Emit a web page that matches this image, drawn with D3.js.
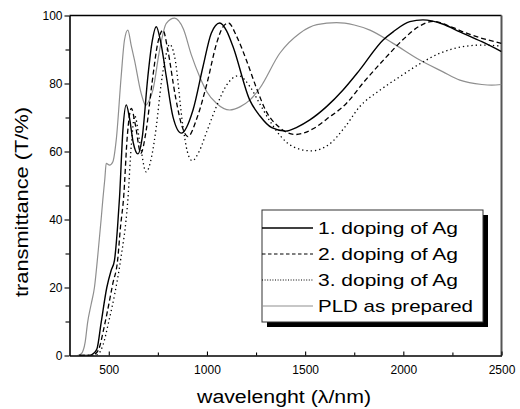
<!DOCTYPE html>
<html><head><meta charset="utf-8">
<script src="https://cdn.jsdelivr.net/npm/d3@7"></script>
<style>
html,body{margin:0;padding:0;background:#fff;}
svg{display:block;font-family:"Liberation Sans",Arial,sans-serif;}
</style></head>
<body><svg id="c" width="520" height="409"></svg>
<script>
// ---- data (wavelength nm, transmittance %) ----
const seriesNames = ["1. doping of Ag", "2. doping of Ag", "3. doping of Ag", "PLD as prepared"];
const doping1 = [[350,0],[400,0],[420,0.5],[440,2],[461,9.6],[490,20],[512,25],[529,28],[545,38],[555,46.7],[572,66.3],[589,73.7],[605,70],[625,62.5],[648,59.3],[670,64],[699,82],[720,92],[742,96.7],[765,92],[793,82],[827,70.2],[870,65.4],[929,72.2],[980,85],[1022,94.8],[1065,97.8],[1100,95.5],[1133,90.8],[1218,75.1],[1269,70.5],[1330,67],[1400,66],[1460,67.2],[1524,69.3],[1609,73.2],[1693,78.1],[1778,84],[1897,92.8],[1948,95.2],[2033,98.2],[2100,98.7],[2200,97.5],[2288,95.2],[2400,92.3],[2500,89.4]];
const doping2 = [[350,0],[410,0],[427,0.3],[450,2],[475,8],[500,15],[520,21],[545,28],[560,38],[575,46],[595,65],[615,72.7],[635,68],[663,59.5],[690,66],[720,80],[750,92],[776,95.7],[800,90],[840,76],[870,68],[903,64.4],[950,70],[1000,80],[1050,92],[1080,96.5],[1110,97.8],[1150,94],[1200,87],[1250,79],[1300,72],[1371,67],[1450,65],[1550,67],[1609,69.5],[1711,74.2],[1800,80.5],[1915,87.9],[2000,93],[2080,96.8],[2152,98.3],[2250,96.5],[2322,94.8],[2400,93.3],[2500,91.8]];
const doping3 = [[350,0],[425,0],[444,0.3],[470,3],[500,10],[530,18],[560,28],[597,45.7],[615,62],[632,70.5],[660,62],[690,54],[720,59],[742,67.3],[767,80],[790,88],[810,91.5],[835,88],[878,67.3],[900,60],[925,57.3],[960,60],[1000,66],[1050,73.5],[1100,79.5],[1160,82.3],[1220,79],[1269,74],[1320,69],[1371,64.8],[1439,61.4],[1530,60.2],[1620,62],[1700,67],[1778,73.2],[1880,78],[1982,82],[2090,86],[2186,88.9],[2300,90.8],[2400,91.3],[2500,91]];
const pld = [[340,0],[360,0.5],[380,4],[392,9.6],[410,15],[427,20],[445,30],[461,40],[470,46],[480,52],[487,56.5],[504,56],[521,57],[538,63.4],[563,82],[580,92.8],[597,95.7],[615,91],[631,86.9],[665,77.1],[688,73.6],[708,75.3],[725,78.1],[759,89.9],[793,97.7],[835,99.2],[880,96],[920,88.5],[963,82],[1000,77.5],[1048,74.2],[1116,72.2],[1170,73.2],[1218,75.1],[1269,78.6],[1371,88.9],[1473,94.8],[1560,97.3],[1660,97.9],[1750,97.2],[1830,95.7],[1948,91.8],[2084,86.9],[2200,83.5],[2288,81],[2400,79.7],[2450,79.5],[2500,79.7]];
const xTicks = [500, 1000, 1500, 2000, 2500];
const xMinorTicks = [750, 1250, 1750, 2250];
const yTicks = [0, 20, 40, 60, 80, 100];
const yMinorTicks = [10, 30, 50, 70, 90];
const xTitle = "wavelenght (\u03bb/nm)";
const yTitle = "transmittance (T/%)";

// ---- layout ----
const L = 69.5, R = 501.5, T = 15.5, B = 355.5;
const svg = d3.select("#c");
const x = d3.scaleLinear().domain([300, 2500]).range([L, R]);
const y = d3.scaleLinear().domain([0, 100]).range([B, T]);

svg.append("defs").append("clipPath").attr("id","clip")
  .append("rect").attr("x",L).attr("y",T-2).attr("width",R-L).attr("height",B-T+2);

// frame (top + right)
svg.append("line").attr("x1",L).attr("x2",R).attr("y1",T).attr("y2",T)
  .attr("stroke","#000").attr("stroke-width",1.5);
svg.append("line").attr("x1",R).attr("x2",R).attr("y1",T).attr("y2",B)
  .attr("stroke","#555").attr("stroke-width",2);

// curves
const line = d3.line().x(d=>x(d[0])).y(d=>y(d[1])).curve(d3.curveMonotoneX);
const styles = [
  {data: pld, stroke:"#8f8f8f", width:1.2, dash:null},
  {data: doping3, stroke:"#000", width:1.3, dash:"1.3,3"},
  {data: doping2, stroke:"#000", width:1.3, dash:"5,3"},
  {data: doping1, stroke:"#000", width:1.4, dash:null}
];
const g = svg.append("g").attr("clip-path","url(#clip)");
styles.forEach(s=>{
  g.append("path").attr("d", line(s.data)).attr("fill","none")
   .attr("stroke", s.stroke).attr("stroke-width", s.width)
   .attr("stroke-dasharray", s.dash);
});

// axes
const xa = svg.append("g").attr("transform",`translate(0,${B})`)
  .call(d3.axisBottom(x).tickValues(xTicks).tickSizeInner(-4).tickSizeOuter(0).tickPadding(10).tickFormat(d3.format("d")));
svg.append("g").attr("transform",`translate(0,${B})`)
  .call(d3.axisBottom(x).tickValues(xMinorTicks).tickSizeInner(-3).tickSizeOuter(0).tickFormat(""))
  .select(".domain").remove();
const ya = svg.append("g").attr("transform",`translate(${L},0)`)
  .call(d3.axisLeft(y).tickValues(yTicks).tickSizeInner(5).tickSizeOuter(0).tickPadding(2));
svg.append("g").attr("transform",`translate(${L},0)`)
  .call(d3.axisLeft(y).tickValues(yMinorTicks).tickSizeInner(4).tickSizeOuter(0).tickFormat(""))
  .select(".domain").remove();
svg.selectAll(".domain").attr("stroke","#000").attr("stroke-width",1.6);
svg.selectAll(".tick line").attr("stroke","#000").attr("stroke-width",1.1);
svg.selectAll(".tick text").attr("font-size",12).attr("font-family","Liberation Sans, Arial, sans-serif").attr("fill","#000");

// titles
svg.append("text").attr("x",284).attr("y",403).attr("text-anchor","middle")
  .attr("font-size",18).attr("textLength",174).attr("lengthAdjust","spacingAndGlyphs").text(xTitle);
svg.append("text").attr("transform","translate(28,202) rotate(-90)").attr("text-anchor","middle")
  .attr("font-size",19).attr("textLength",190).attr("lengthAdjust","spacingAndGlyphs").text(yTitle);

// legend
const lx = 262, ly = 210, lw = 221, lh = 112;
svg.append("rect").attr("x",lx+5).attr("y",ly+5).attr("width",lw).attr("height",lh).attr("fill","#000");
svg.append("rect").attr("x",lx).attr("y",ly).attr("width",lw).attr("height",lh)
  .attr("fill","#fff").attr("stroke","#333").attr("stroke-width",1);
const legStyles = [
  {stroke:"#000", width:1.3, dash:null, tl:140},
  {stroke:"#000", width:1.1, dash:"3.5,2.5", tl:140},
  {stroke:"#000", width:1.1, dash:"1,1.6", tl:140},
  {stroke:"#8f8f8f", width:1.2, dash:null, tl:155}
];
const rowY = [228, 254, 280, 306];
seriesNames.forEach((n,i)=>{
  const s = legStyles[i];
  svg.append("line").attr("x1",lx).attr("x2",lx+51).attr("y1",rowY[i]).attr("y2",rowY[i])
    .attr("stroke",s.stroke).attr("stroke-width",s.width).attr("stroke-dasharray",s.dash);
  svg.append("text").attr("x",lx+56).attr("y",rowY[i]+6).attr("font-size",17)
    .attr("textLength",s.tl).attr("lengthAdjust","spacingAndGlyphs").text(n);
});
</script></body></html>
